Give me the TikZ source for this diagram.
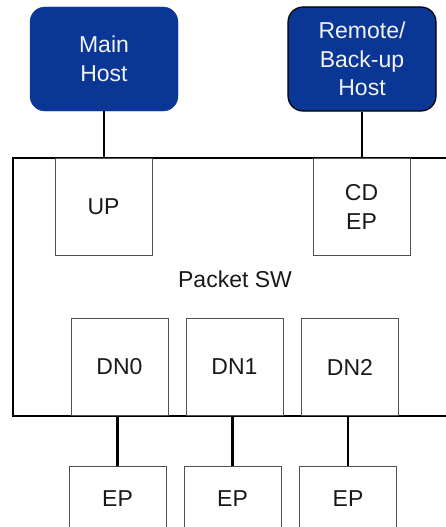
\documentclass[tikz,border=0pt]{standalone}
\usepackage{fontspec}
\setmainfont{Liberation Sans}
\usetikzlibrary{positioning}
\definecolor{hostblue}{HTML}{0A3696}
\definecolor{boxgray}{HTML}{505050}
\tikzset{
  hostbox/.style={fill=hostblue,rounded corners=15pt,minimum width=148pt,minimum height=104pt,
    align=center,text=white!90!gray,font=\fontsize{23}{28.5}\selectfont},
  portbox/.style={draw=boxgray,line width=0.9pt,minimum width=97pt,minimum height=97pt,
    align=center,text=black!90,font=\fontsize{23}{28.5}\selectfont},
  link/.style={line width=2.3pt,color=black}
}
\begin{document}
\begin{tikzpicture}[x=1pt,y=-1pt]
    \useasboundingbox (0,0) rectangle (446,527);
    \clip (0,0) rectangle (446,527);
    \draw[link] (470,158) -- (13,158) -- (13,416) -- (470,416);
    \node[hostbox,draw=hostblue,at={(104,59)}] (mainhost) {Main\\Host};
    \node[hostbox,draw=black,line width=1.2pt,at={(362,59)}] (remotehost) {Remote/\\Back-up\\Host};
    \node[portbox,anchor=north,at={(103.5,158)}] (up) {UP};
    \node[portbox,anchor=north,at={(361.5,158)}] (cdep) {CD\\EP};
    \node[at={(235,279)},text=black!90,font=\fontsize{23}{28.5}\selectfont] (psw) {Packet SW};
    \foreach \i/\x in {0/119.5,1/234.5,2/350}
    {
      \node[portbox,anchor=south,at={(\x,416)}] (dn\i) {DN\i};
      \node[portbox,minimum height=64pt,anchor=north,at={(\x-2,466)}] (ep\i) {EP};
      \draw[link] (dn\i.south -| ep\i.north) -- (ep\i.north);
    }
    \draw[link] (mainhost.south) -- (mainhost.south |- up.north);
    \draw[link] (remotehost.south) -- (remotehost.south |- cdep.north);
\end{tikzpicture}
\end{document}
